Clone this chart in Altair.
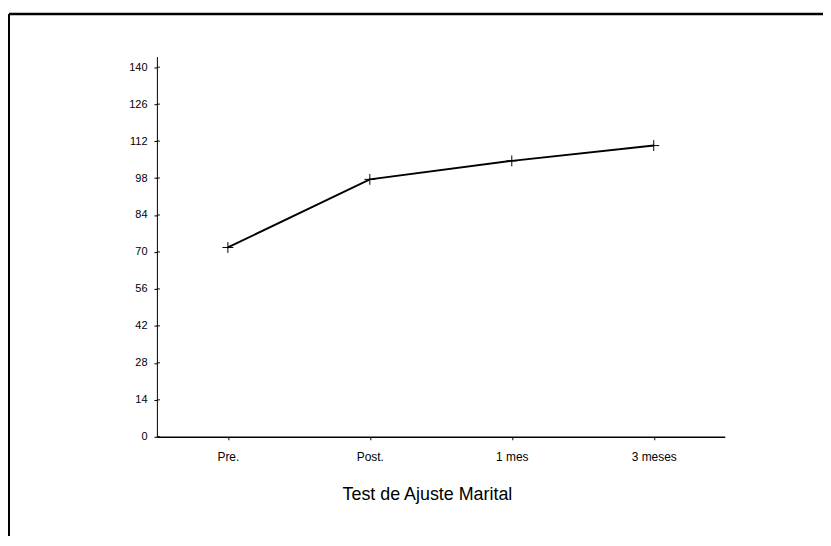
import altair as alt
import pandas as pd

# Data
categories = ["Pre.", "Post.", "1 mes", "3 meses"]
values = [71.7, 97.5, 104.5, 110.3]
y_ticks = [0, 14, 28, 42, 56, 70, 84, 98, 112, 126, 140]
x_title = "Test de Ajuste Marital"

df = pd.DataFrame({"momento": categories, "valor": values})
ticks_df = pd.DataFrame({"valor": y_ticks})

FONT = "Liberation Sans"

x_enc = alt.X(
    "momento:N",
    sort=categories,
    scale=alt.Scale(type="point", padding=0.5),
    axis=alt.Axis(
        title=x_title,
        labelAngle=0,
        labelFontSize=12,
        labelFont=FONT,
        labelColor="black",
        labelPadding=12,
        labelOverlap=False,
        tickSize=3,
        tickColor="black",
        domainColor="black",
        domainWidth=1.5,
        titleFont=FONT,
        titleFontSize=18,
        titleFontWeight="normal",
        titleColor="black",
        titleX=272,
        titleY=63,
        titleBaseline="alphabetic",
        titleAlign="center",
        grid=False,
    ),
)

y_enc = alt.Y(
    "valor:Q",
    scale=alt.Scale(domain=[0, 144], nice=False, zero=True),
    axis=alt.Axis(
        title=None,
        values=y_ticks,
        labelFontSize=11,
        labelFont=FONT,
        labelColor="black",
        labelPadding=7,
        labelOverlap=False,
        labelFlush=False,
        tickSize=3,
        tickColor="black",
        domainColor="black",
        domainWidth=1,
        grid=False,
    ),
)

line = alt.Chart(df).mark_line(color="black", strokeWidth=2).encode(x=x_enc, y=y_enc)

points = alt.Chart(df).mark_point(
    shape="M-1,0L1,0M0,-1L0,1",
    size=120,
    filled=False,
    stroke="black",
    strokeWidth=1,
    opacity=1,
).encode(x=x_enc, y=y_enc)

inner_ticks = alt.Chart(ticks_df).mark_rule(color="black", strokeWidth=1).encode(
    y=y_enc,
    x=alt.value(0),
    x2=alt.value(3),
)

top_border = alt.Chart(ticks_df.head(1)).mark_rule(color="black", strokeWidth=2.5).encode(
    x=alt.value(-149), x2=alt.value(680), y=alt.value(-43)
)
left_border = alt.Chart(ticks_df.head(1)).mark_rule(color="black", strokeWidth=2).encode(
    x=alt.value(-149), y=alt.value(-43), y2=alt.value(500)
)

chart = (
    alt.layer(line, points, inner_ticks, top_border, left_border)
    .properties(
        width=572,
        height=383,
        autosize=alt.AutoSizeParams(type="none"),
        padding={"left": 150, "top": 47, "right": 99, "bottom": 98},
        background="white",
    )
    .configure_view(stroke=None)
    .configure_axis(labelOverlap=False)
)

chart.save("out.html", embed_options={"renderer": "svg", "actions": False})
